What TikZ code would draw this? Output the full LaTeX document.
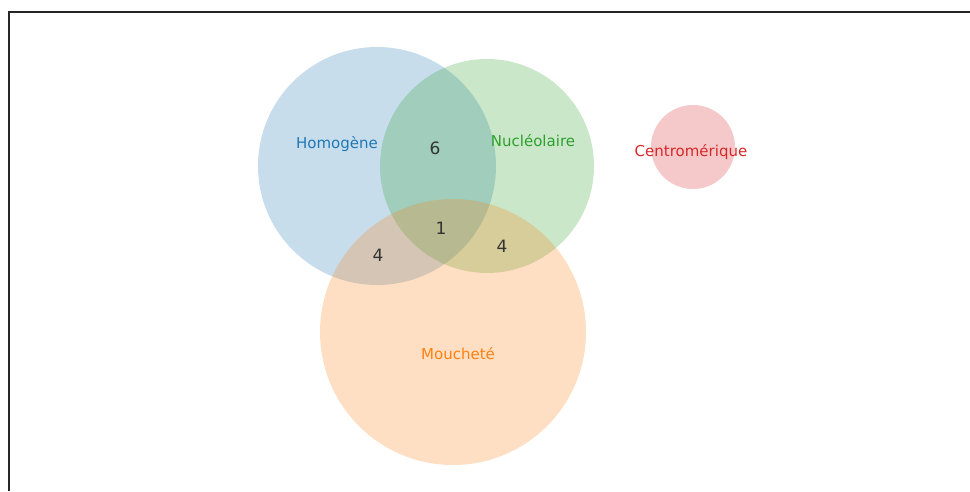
\documentclass[tikz,border=0pt]{standalone}
\usepackage{fontspec}
\setmainfont{DejaVu Sans}
\usetikzlibrary{positioning}
\definecolor{tabblue}{HTML}{1F77B4}
\definecolor{taborange}{HTML}{FF7F0E}
\definecolor{tabgreen}{HTML}{2CA02C}
\definecolor{tabred}{HTML}{D62728}
\tikzstyle{venn} = [circle, inner sep=0pt, draw=none, fill opacity=0.25]
\tikzstyle{setlabel} = [inner sep=0pt, font=\fontsize{15}{18}\selectfont]
\tikzstyle{count} = [inner sep=0pt, text=black!80, font=\fontsize{17}{20}\selectfont]
\tikzstyle{frame} = [line width=2.5pt, black!85]

\begin{document}
\begin{tikzpicture}[x=1pt, y=-1pt]
\useasboundingbox (0,0) rectangle (970,491);

\draw [frame] (9,491) -- (9,12) -- (970,12);

\node (homog) [venn, fill=tabblue, minimum size=238pt] at (377,166) {};
\node (nucl) [venn, fill=tabgreen, minimum size=214pt] at (487,166) {};
\node (mouch) [venn, fill=taborange, minimum size=266pt] at (453,332) {};
\node (centro) [venn, fill=tabred, minimum size=84pt] at (693,147) {};

\node (lhomog) [setlabel, text=tabblue] at (337,144) {Homogène};
\node (lnucl) [setlabel, text=tabgreen] at (533,141) {Nucléolaire};
\node (lmouch) [setlabel, text=taborange] at (458,354) {Moucheté};
\node (lcentro) [setlabel, text=tabred] at (691,152) {Centromérique};

\node (n6) [count] at (435,148) {6};
\node (n1) [count] at (441,228) {1};
\node (n4a) [count] at (378,255) {4};
\node (n4b) [count] at (502,246) {4};

\end{tikzpicture}
\end{document}
